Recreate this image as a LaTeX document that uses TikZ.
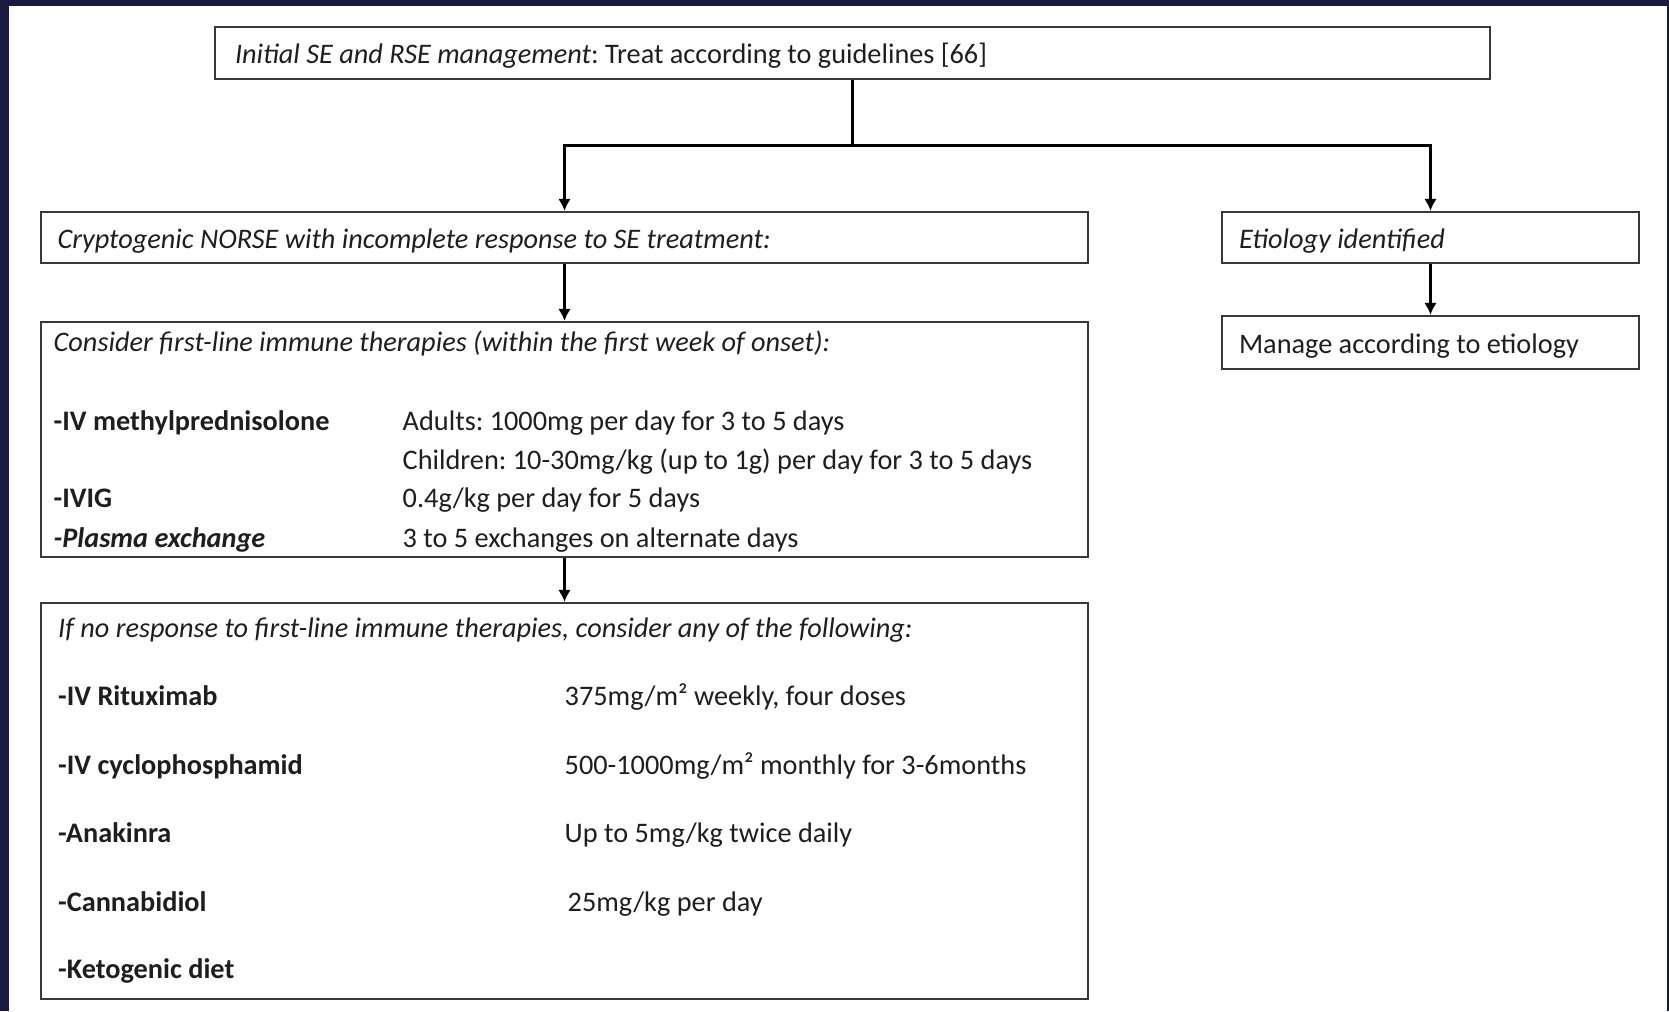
\documentclass[tikz,border=0pt]{standalone}
\usepackage{fontspec}
\setmainfont{Carlito}
\usetikzlibrary{arrows.meta}
\definecolor{framenavy}{HTML}{1A1A40}
\definecolor{boxline}{HTML}{383838}
\definecolor{ink}{HTML}{1E1E1E}
\frenchspacing

\begin{document}
\begin{tikzpicture}[x=0.1mm, y=-0.1mm,
  font=\fontsize{8.05}{9.7}\selectfont, text=ink,
  box/.style={draw=boxline, line width=0.65pt, inner ysep=0pt, text height=7.4pt, text depth=1.4pt,
    align=flush left, execute at begin node={\spaceskip=0pt\xspaceskip=0pt}},
  txt/.style={anchor=base west, inner sep=0pt},
  flow/.style={line width=0.85pt, -{Latex[length=3.4pt,width=3.6pt]}}]
  % frame
  \fill[framenavy] (0,0) rectangle (1669,1011);
  \fill[white] (9,6) rectangle (1667,1011);
  % boxes
  \node[box, inner xsep=2mm, text width=123.5mm, minimum height=5.2mm] (top) at (852.5,53)
    {\textit{Initial SE and RSE management}: Treat according to guidelines [66]};
  \node[box, inner xsep=1.65mm, text width=101.4mm, minimum height=5.1mm] (crypt) at (564.5,237.5)
    {\textit{Cryptogenic NORSE with incomplete response to SE treatment:}};
  \node[box, inner xsep=1.7mm, text width=38.3mm, minimum height=5.1mm] (etio) at (1430.5,237.5)
    {\textit{Etiology identified}};
  \node[box, inner xsep=1.7mm, text width=38.3mm, minimum height=5.3mm] (manage) at (1430.5,342.5)
    {Manage according to etiology};
  \node[box, minimum width=104.7mm, minimum height=23.5mm] (first) at (564.5,439.5) {};
  \node[box, minimum width=104.7mm, minimum height=39.6mm] (second) at (564.5,801) {};
  % first-line therapies
  \node[txt] (first-head) at (53,351.5)
    {\textit{Consider first-line immune therapies (within the first week of onset):}};
  \node[txt] (mp) at (53,430) {\textbf{-IV methylprednisolone}};
  \node[txt] (mp-adult) at (402,430) {Adults: 1000mg per day for 3 to 5 days};
  \node[txt] (mp-child) at (402,469.5) {Children: 10-30mg/kg (up to 1g) per day for 3 to 5 days};
  \node[txt] (ivig) at (53,507.5) {\textbf{-IVIG}};
  \node[txt] (ivig-dose) at (402,507.5) {0.4g/kg per day for 5 days};
  \node[txt] (plex) at (53,547) {\textbf{\textit{-Plasma exchange}}};
  \node[txt] (plex-dose) at (402,547) {3 to 5 exchanges on alternate days};
  % second-line therapies
  \node[txt] (second-head) at (57.5,637.5)
    {\textit{If no response to first-line immune therapies, consider any of the following:}};
  \foreach \y/\x/\drug/\dose [count=\i] in {705.5/564/{IV Rituximab}/{375mg/m² weekly, four doses},
      774.5/564/{IV cyclophosphamid}/{500-1000mg/m² monthly for 3-6months},
      842/564/{Anakinra}/{Up to 5mg/kg twice daily},
      911/567/{Cannabidiol}/{25mg/kg per day}} {
    \node[txt] (drug\i) at (57.5,\y) {\textbf{-\drug}};
    \node[txt] (dose\i) at (\x,\y) {\dose};
  }
  \node[txt] (keto) at (57.5,978) {\textbf{-Ketogenic diet}};
  % connectors
  \coordinate (fork) at ([yshift=-6.5mm]top.south);
  \draw[line width=0.85pt] (top.south) -- (fork);
  \draw[flow] (fork) -| (crypt.north);
  \draw[flow] (fork) -| (etio.north);
  \draw[flow] (crypt.south) -- (first.north);
  \draw[flow] (first.south) -- (second.north);
  \draw[flow] (etio.south) -- (manage.north);
\end{tikzpicture}
\end{document}
